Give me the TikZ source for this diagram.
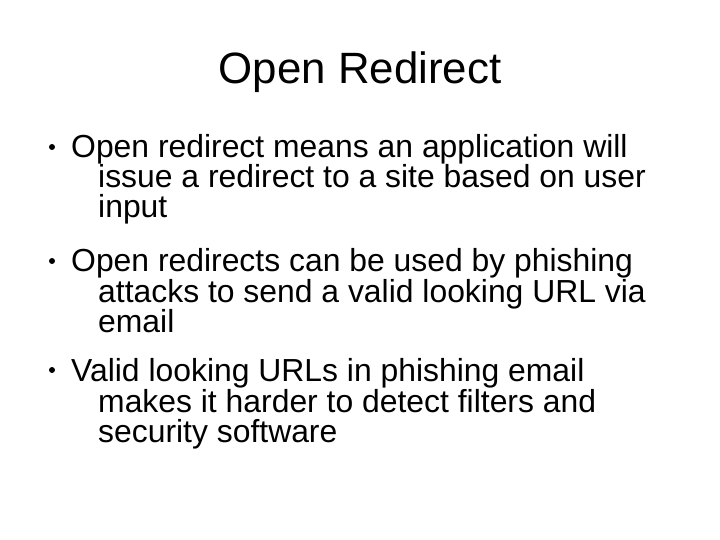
\documentclass[tikz,border=0pt]{standalone}
\usepackage{fontspec}
\setmainfont{Liberation Sans}
\usetikzlibrary{positioning}
\tikzset{
  title/.style={font=\fontsize{44}{48}\selectfont, anchor=base, inner sep=0pt},
  txt/.style={font=\fontsize{32}{36}\selectfont, anchor=base west, inner sep=0pt},
  dot/.style={circle, fill=black, minimum size=6bp, inner sep=0pt}
}
\begin{document}
\begin{tikzpicture}[x=1bp, y=-1bp]
    \useasboundingbox (0,0) rectangle (720,540);
    \node[title] (t) at (360,84) {Open Redirect};

    % bullet one
    \node[dot] (b1) at (52,147) {};
    \node[txt] (l1) at (71,158) {Open redirect means an application will};
    \node[txt] (l2) at (98,188) {issue a redirect to a site based on user};
    \node[txt] (l3) at (98,218) {input};

    % bullet two
    \node[dot] (b2) at (52,261) {};
    \node[txt] (l4) at (71,272) {Open redirects can be used by phishing};
    \node[txt] (l5) at (98,302) {attacks to send a valid looking URL via};
    \node[txt] (l6) at (98,332) {email};

    % bullet three
    \node[dot] (b3) at (52,370) {};
    \node[txt] (l7) at (71,381) {Valid looking URLs in phishing email};
    \node[txt] (l8) at (98,412) {makes it harder to detect filters and};
    \node[txt] (l9) at (98,442) {security software};
\end{tikzpicture}
\end{document}
